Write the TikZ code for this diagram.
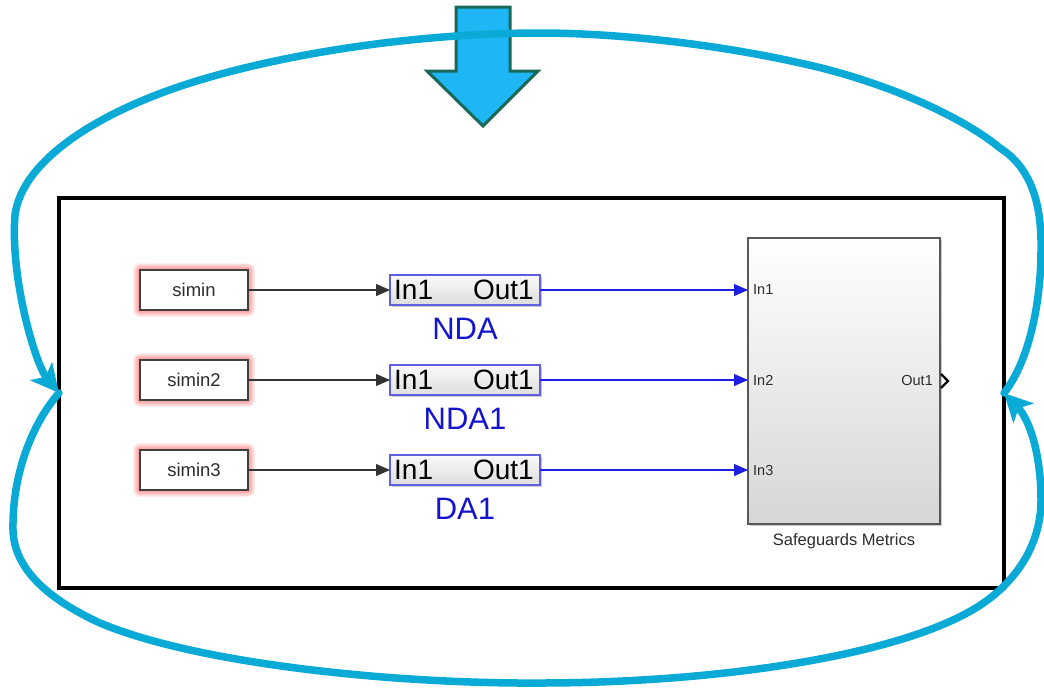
\documentclass[tikz,border=0pt]{standalone}
\usepackage{fontspec}
\setmainfont{Liberation Sans}
\usetikzlibrary{arrows.meta,shadows,backgrounds}

\definecolor{loopblue}{RGB}{10,170,215}
\definecolor{arrowfill}{RGB}{30,182,245}
\definecolor{arrowedge}{RGB}{25,105,90}
\definecolor{sigblue}{RGB}{30,30,225}
\definecolor{lblblue}{RGB}{20,20,205}
\definecolor{blkedge}{RGB}{95,95,225}
\definecolor{textgray}{RGB}{45,45,45}

\begin{document}
\begin{tikzpicture}[x=1pt,y=-1pt,
  loopline/.style={draw=loopblue, line width=7.5pt, line cap=round},
  looptip/.style={-{Stealth[length=28pt,width=28pt,inset=7pt]}},
  framebox/.style={draw=black, line width=3.5pt, minimum width=945pt, minimum height=390pt, inner sep=0pt, outer sep=0pt},
  simbox/.style={draw=black!75, line width=1.5pt, fill=white, minimum width=108pt, minimum height=40pt,
    inner sep=0pt, outer sep=0pt, font=\fontsize{18.5}{20}\selectfont, text=textgray},
  subsys/.style={draw=blkedge, line width=1.8pt, top color=black!2, bottom color=black!13,
    minimum width=150pt, minimum height=30pt, inner sep=0pt, outer sep=0pt,
    drop shadow={shadow xshift=1.5pt, shadow yshift=-1.5pt, opacity=0.35, fill=black!60}},
  portbig/.style={font=\fontsize{28}{30}\selectfont, text=black, inner sep=0pt},
  lbl/.style={font=\fontsize{31}{33}\selectfont, text=lblblue, inner sep=0pt},
  sgbox/.style={draw=black!65, line width=1.4pt, top color=white, middle color=black!4, bottom color=black!16,
    minimum width=192pt, minimum height=286pt, inner sep=0pt, outer sep=0pt,
    drop shadow={shadow xshift=2pt, shadow yshift=-2pt, opacity=0.35, fill=black!60}},
  portsmall/.style={font=\fontsize{14.5}{16}\selectfont, text=textgray, inner sep=0pt},
  blkwire/.style={draw=black!80, line width=1.2pt, -{Triangle[length=14pt,width=12pt]}},
  bluewire/.style={draw=sigblue, line width=1.2pt, -{Triangle[length=14pt,width=12pt]}}
]
\useasboundingbox (0,0) rectangle (1044,694);

% model frame
\node[framebox] (fr) at (531.5,393) {};

% source blocks
\node[simbox] (s1) at (194,290) {simin};
\node[simbox] (s2) at (194,380) {simin2};
\node[simbox] (s3) at (194,470) {simin3};

% red highlight glow behind the source blocks
\begin{scope}[on background layer]
  \foreach \n in {s1,s2,s3}{
    \foreach \k in {1,...,7}{
      \fill[red, opacity=0.065, rounded corners=\k pt]
        ([shift={(-\k,-\k)}]\n.north west) rectangle ([shift={(\k,\k)}]\n.south east);
    }
  }
\end{scope}

% subsystem blocks
\node[subsys] (b1) at (465,290) {};
\node[subsys] (b2) at (465,380) {};
\node[subsys] (b3) at (465,470) {};
\foreach \b/\t in {b1/NDA,b2/NDA1,b3/DA1}{
  \node[portbig, anchor=west, xshift=4pt] (\b in) at (\b.west) {In1};
  \node[portbig, anchor=east, xshift=-6pt] (\b out) at (\b.east) {Out1};
  \node[lbl, anchor=base, yshift=-49pt] (\b lbl) at (\b.center) {\t};
}

% metrics block
\node[sgbox] (sg) at (844,381) {};
\node[anchor=base, yshift=-21pt, font=\fontsize{16.5}{18}\selectfont, text=textgray, inner sep=0pt] (sglbl) at (sg.south) {Safeguards Metrics};
\node[portsmall, anchor=east, xshift=-7pt] (sgout) at (sg.east) {Out1};
\draw[black, line width=2.2pt] ([shift={(1,-7)}]sg.east) -- ([shift={(8,0)}]sg.east) -- ([shift={(1,7)}]sg.east);

% signal lines
\foreach \i in {1,2,3}{
  \draw[blkwire] (s\i.east) -- (b\i.west);
  \draw[bluewire] (b\i.east) -- (b\i.east -| sg.west);
  \node[portsmall, anchor=west, xshift=5pt] (sgin\i) at (b\i.east -| sg.west) {In\i};
}

% downward arrow
\filldraw[fill=arrowfill, draw=arrowedge, line width=3pt, line join=miter]
  (456,7) -- (510,7) -- (510,71) -- (538,71) -- (483,126) -- (427,71) -- (456,71) -- cycle;

% upper loop arc
\draw[loopline, looptip] (fr.east)
  .. controls (1030,360) and (1041,300) .. (1041,250)
  .. controls (1042,198) and (1028,166) .. (1000,148)
  .. controls (960,115) and (880,80) .. (800,63)
  .. controls (720,45) and (620,33) .. (540,33)
  .. controls (430,33) and (300,50) .. (200,80)
  .. controls (100,110) and (22,160) .. (15,215)
  .. controls (10,280) and (36,365) .. (fr.west);

% lower loop arc
\draw[loopline, looptip] (fr.west)
  .. controls (35,420) and (12,470) .. (13,530)
  .. controls (14,570) and (50,600) .. (100,623)
  .. controls (200,665) and (400,684) .. (540,683)
  .. controls (700,683) and (880,660) .. (967,613)
  .. controls (1010,590) and (1041,550) .. (1041,500)
  .. controls (1041,455) and (1030,420) .. (fr.east);
\end{tikzpicture}
\end{document}
